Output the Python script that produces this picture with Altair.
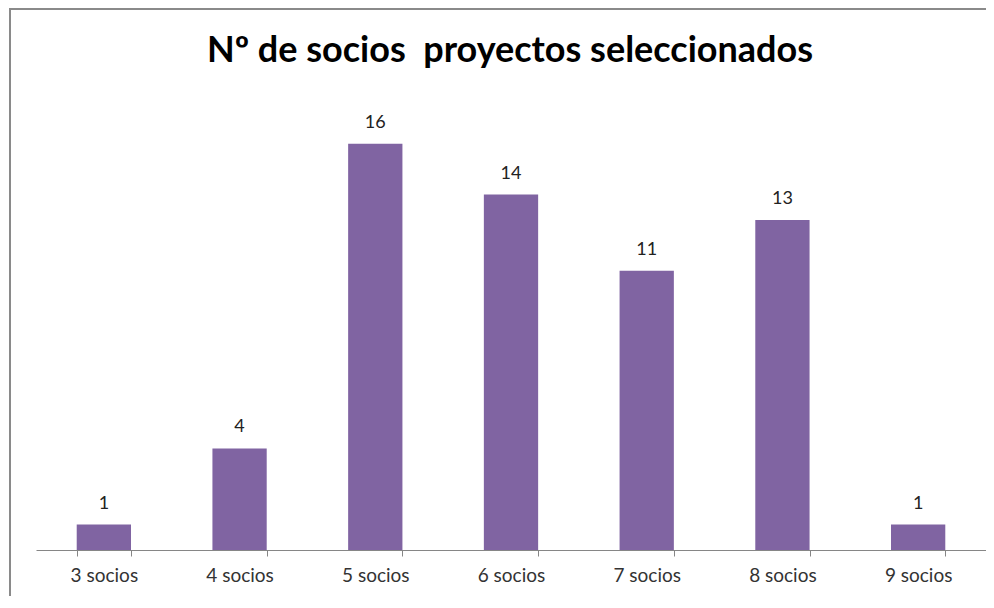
import altair as alt
import pandas as pd

categories = ["3 socios", "4 socios", "5 socios", "6 socios", "7 socios", "8 socios", "9 socios"]
values = [1, 4, 16, 14, 11, 13, 1]
title_text = "Nº de socios \u00a0proyectos seleccionados"

df = pd.DataFrame({"cat": categories, "val": values})

FONT = "Lato"

base = alt.Chart(df).encode(
    x=alt.X("cat:N", sort=categories,
            scale=alt.Scale(paddingInner=0.6, paddingOuter=0.3),
            axis=alt.Axis(title=None, labelAngle=0, tickBand="extent",
                          domainColor="#868686", tickColor="#868686",
                          tickSize=6, labelPadding=10, labelFontSize=19,
                          labelFont=FONT, labelColor="#333333", grid=False)),
    y=alt.Y("val:Q", scale=alt.Scale(domain=[0, 18]), axis=None),
)

bars = base.mark_bar(color="#8064A2")
labels = base.mark_text(dy=-16, fontSize=18, font=FONT, color="#222222",
                        baseline="alphabetic").encode(text="val:Q")

frame_left = alt.Chart(df).mark_rule(color="#8a8a8a", strokeWidth=2).encode(
    x=alt.value(-26), y=alt.value(-85), y2=alt.value(503))
frame_top = alt.Chart(df).mark_rule(color="#8a8a8a", strokeWidth=2).encode(
    x=alt.value(-27), x2=alt.value(950), y=alt.value(-84))

title_mark = alt.Chart(pd.DataFrame({"t": [title_text]})).mark_text(
    font=FONT, fontSize=36, fontWeight="bold", color="#000000",
    align="center", baseline="alphabetic").encode(
    x=alt.value(474), y=alt.value(-31), text="t:N")

chart = alt.layer(frame_left, frame_top, bars, labels, title_mark).properties(
    width=950, height=457,
    padding={"left": 28, "top": 85, "right": 0, "bottom": 46},
    autosize=alt.AutoSizeParams(type="none"),
).configure_view(stroke=None)

chart.save("out.html", embed_options={"renderer": "svg", "actions": False})
